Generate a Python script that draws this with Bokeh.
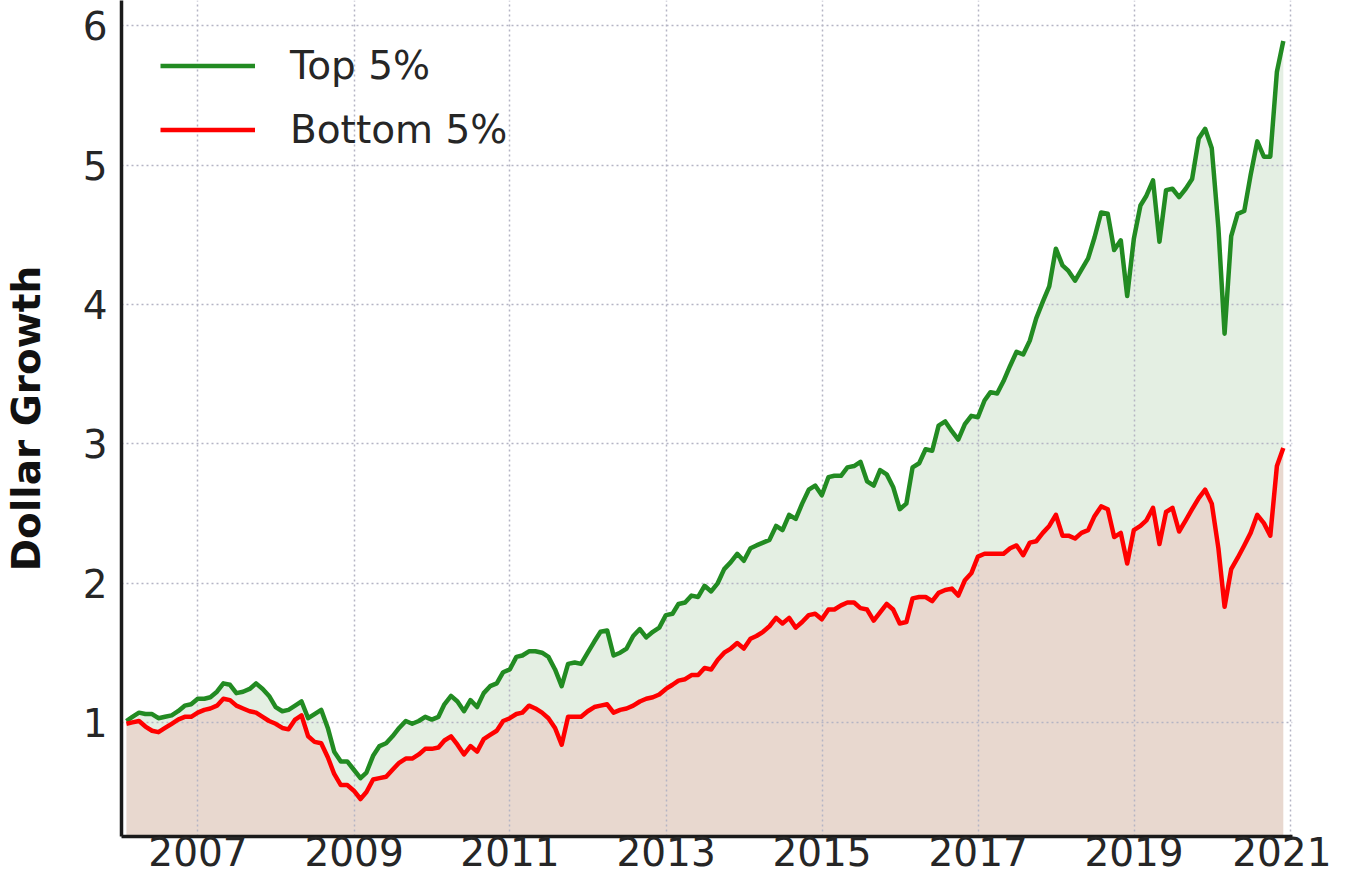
import pandas as pd
from datetime import datetime
from bokeh.plotting import figure
from bokeh.models import (Range1d, FixedTicker, DatetimeTickFormatter, Legend,
                          LegendItem, ColumnDataSource)
from bokeh.embed import file_html
from bokeh.resources import INLINE

# ---------------- data ----------------
top5 = [
    1.01, 1.04, 1.07, 1.06, 1.06, 1.03, 1.04, 1.05, 1.08, 1.12,
    1.13, 1.17, 1.17, 1.18, 1.22, 1.28, 1.27, 1.21, 1.22, 1.24,
    1.28, 1.24, 1.19, 1.11, 1.08, 1.09, 1.12, 1.15, 1.03, 1.06,
    1.09, 0.96, 0.79, 0.72, 0.72, 0.66, 0.60, 0.64, 0.76, 0.83,
    0.85, 0.90, 0.96, 1.01, 0.99, 1.01, 1.04, 1.02, 1.04, 1.13,
    1.19, 1.15, 1.08, 1.16, 1.11, 1.21, 1.26, 1.28, 1.36, 1.38,
    1.47, 1.48, 1.51, 1.51, 1.50, 1.47, 1.38, 1.26, 1.42, 1.43,
    1.42, 1.50, 1.58, 1.65, 1.66, 1.48, 1.50, 1.53, 1.62, 1.67,
    1.61, 1.65, 1.68, 1.77, 1.78, 1.85, 1.86, 1.91, 1.90, 1.98,
    1.94, 2.00, 2.10, 2.15, 2.21, 2.16, 2.25, 2.27, 2.29, 2.31,
    2.41, 2.38, 2.49, 2.46, 2.57, 2.67, 2.70, 2.63, 2.76, 2.77,
    2.77, 2.83, 2.84, 2.87, 2.73, 2.70, 2.81, 2.78, 2.69, 2.53,
    2.57, 2.83, 2.86, 2.96, 2.95, 3.13, 3.16, 3.09, 3.03, 3.14,
    3.20, 3.19, 3.31, 3.37, 3.36, 3.45, 3.56, 3.66, 3.64, 3.74,
    3.90, 4.02, 4.13, 4.40, 4.28, 4.24, 4.17, 4.25, 4.33, 4.48,
    4.66, 4.65, 4.39, 4.46, 4.06, 4.47, 4.71, 4.78, 4.89, 4.45,
    4.82, 4.83, 4.77, 4.83, 4.90, 5.19, 5.26, 5.12, 4.55, 3.79,
    4.49, 4.65, 4.67, 4.93, 5.17, 5.06, 5.06, 5.67, 5.89,
]

bottom5 = [
    0.99, 1.00, 1.01, 0.97, 0.94, 0.93, 0.96, 0.99, 1.02, 1.04,
    1.04, 1.07, 1.09, 1.10, 1.12, 1.17, 1.16, 1.12, 1.10, 1.08,
    1.07, 1.04, 1.01, 0.99, 0.96, 0.95, 1.02, 1.05, 0.90, 0.86,
    0.85, 0.75, 0.63, 0.55, 0.55, 0.51, 0.45, 0.50, 0.59, 0.60,
    0.61, 0.66, 0.71, 0.74, 0.74, 0.77, 0.81, 0.81, 0.82, 0.87,
    0.90, 0.84, 0.77, 0.83, 0.79, 0.88, 0.91, 0.94, 1.01, 1.03,
    1.06, 1.07, 1.12, 1.10, 1.07, 1.03, 0.96, 0.84, 1.04, 1.04,
    1.04, 1.08, 1.11, 1.12, 1.13, 1.07, 1.09, 1.10, 1.12, 1.15,
    1.17, 1.18, 1.20, 1.24, 1.27, 1.30, 1.31, 1.34, 1.34, 1.39,
    1.38, 1.45, 1.50, 1.53, 1.57, 1.53, 1.60, 1.62, 1.65, 1.69,
    1.75, 1.71, 1.75, 1.68, 1.72, 1.77, 1.78, 1.74, 1.81, 1.81,
    1.84, 1.86, 1.86, 1.82, 1.81, 1.73, 1.79, 1.85, 1.81, 1.71,
    1.72, 1.89, 1.90, 1.90, 1.87, 1.93, 1.95, 1.96, 1.91, 2.02,
    2.07, 2.19, 2.21, 2.21, 2.21, 2.21, 2.25, 2.27, 2.20, 2.29,
    2.30, 2.36, 2.41, 2.49, 2.34, 2.34, 2.32, 2.36, 2.38, 2.48,
    2.55, 2.53, 2.33, 2.36, 2.14, 2.38, 2.41, 2.45, 2.54, 2.28,
    2.51, 2.54, 2.37, 2.45, 2.53, 2.61, 2.67, 2.57, 2.25, 1.83,
    2.10, 2.18, 2.27, 2.36, 2.49, 2.43, 2.34, 2.84, 2.97,
]

x_tick_years = [2007, 2009, 2011, 2013, 2015, 2017, 2019, 2021]
y_ticks = [1, 2, 3, 4, 5, 6]
series_labels = ["Top 5%", "Bottom 5%"]
y_axis_title = "Dollar Growth"

# month-end dates, Jan 2006 onwards
n = len(top5)
dates = (pd.date_range("2006-02-01", periods=n, freq="MS") - pd.Timedelta(days=1))

src = ColumnDataSource(dict(date=dates, top=top5, bottom=bottom5,
                            base=[0.0] * n))


def ms(dt):
    return (dt - datetime(1970, 1, 1)).total_seconds() * 1000.0


FONT = "DejaVu Sans"
TXT = "#262626"

p = figure(width=1331, height=873, x_axis_type="datetime",
           output_backend="svg", toolbar_location=None,
           x_range=Range1d(ms(datetime(2006, 1, 8)), ms(datetime(2021, 1, 12))),
           y_range=Range1d(0.181, 6.181),
           min_border_left=116, min_border_right=39,
           min_border_top=0, min_border_bottom=37)

p.outline_line_color = None
p.background_fill_color = "white"

# fills (below the grid, like matplotlib)
p.varea(x="date", y1="bottom", y2="top", source=src,
        fill_color="#e4efe3", level="image")
p.varea(x="date", y1="base", y2="bottom", source=src,
        fill_color="#e8d8cf", level="image")

r_top = p.line(x="date", y="top", source=src, line_color="#228B22",
               line_width=4.5, line_join="round")
r_bot = p.line(x="date", y="bottom", source=src, line_color="#FF0000",
               line_width=4.5, line_join="round")

# axes
xt = FixedTicker(ticks=[ms(datetime(y, 1, 1)) for y in x_tick_years])
p.xaxis.ticker = xt
p.xaxis.formatter = DatetimeTickFormatter(years="%Y", months="%Y", days="%Y",
                                          hours="%Y", minutes="%Y")
p.yaxis.ticker = FixedTicker(ticks=y_ticks)

for ax in (p.xaxis, p.yaxis):
    ax.axis_line_width = 3.5
    ax.axis_line_color = "#1a1a1a"
    ax.major_tick_line_color = None
    ax.minor_tick_line_color = None
    ax.major_tick_out = 0
    ax.major_tick_in = 0
    ax.major_label_text_font = FONT
    ax.major_label_text_font_size = "39px"
    ax.major_label_text_color = TXT

p.xaxis.major_label_standoff = 0
p.xaxis.major_label_text_line_height = 0.8
p.yaxis.major_label_standoff = 14

p.yaxis.axis_label = y_axis_title
p.yaxis.axis_label_text_font = FONT
p.yaxis.axis_label_text_font_size = "39px"
p.yaxis.axis_label_text_font_style = "bold"
p.yaxis.axis_label_text_color = "#111111"
p.yaxis.axis_label_standoff = 31

# grid
p.xgrid.ticker = xt
p.ygrid.ticker = FixedTicker(ticks=y_ticks)
p.grid.grid_line_color = "#b4b4c4"
p.grid.grid_line_width = 1.5
p.grid.grid_line_dash = "2 3"

# legend
legend = Legend(items=[LegendItem(label=series_labels[0], renderers=[r_top]),
                       LegendItem(label=series_labels[1], renderers=[r_bot])],
                location=(39, 684))
legend.border_line_color = None
legend.background_fill_alpha = 0
legend.label_text_font = FONT
legend.label_text_font_size = "39px"
legend.label_text_color = TXT
legend.glyph_width = 95
legend.glyph_height = 45
legend.label_height = 45
legend.label_standoff = 35
legend.spacing = 19
legend.padding = 0
legend.margin = 0
p.add_layout(legend)

open("out.html", "w").write(file_html(p, INLINE))
